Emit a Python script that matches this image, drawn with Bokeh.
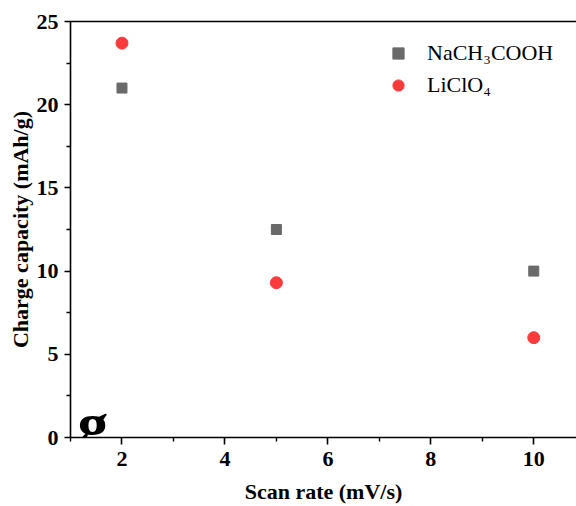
from bokeh.plotting import figure
from bokeh.models import Legend, LegendItem, LinearAxis, FixedTicker, Label, Range1d
from bokeh.embed import file_html
from bokeh.resources import INLINE

scan_rate = [2, 5, 10]
na_values = [21.0, 12.5, 10.0]
li_values = [23.7, 9.3, 6.0]
x_ticks = [2, 4, 6, 8, 10]
y_ticks = [0, 5, 10, 15, 20, 25]
series_names = ["NaCH\u2083COOH", "LiClO\u2084"]

FONT = "Liberation Serif"

p = figure(width=576, height=506, frame_width=506, frame_height=416,
           output_backend="svg", toolbar_location=None,
           x_range=Range1d(1.0, 10.83), y_range=Range1d(0, 25),
           min_border_left=70, min_border_right=0, min_border_top=21, min_border_bottom=69)
p.outline_line_color = None
p.xgrid.visible = False
p.ygrid.visible = False
p.background_fill_color = "white"

r1 = p.scatter(scan_rate, na_values, marker="square", size=10, color="#6a6a6a")
r2 = p.scatter(scan_rate, li_values, marker="circle", size=12, color="#fb3b3b")

for ax in (p.xaxis[0], p.yaxis[0]):
    ax.axis_line_width = 1.6
    ax.major_tick_line_width = 1.6
    ax.minor_tick_line_width = 1.4
    ax.major_label_text_font = FONT
    ax.major_label_text_font_style = "bold"
    ax.major_label_text_font_size = "22px"
    ax.major_label_text_color = "black"
    ax.axis_label_text_font = FONT
    ax.axis_label_text_font_style = "bold"
    ax.axis_label_text_font_size = "22px"
    ax.axis_label_text_color = "black"
    ax.major_tick_in = 0
    ax.minor_tick_in = 0

p.xaxis[0].ticker = FixedTicker(ticks=x_ticks, minor_ticks=[1, 3, 5, 7, 9])
p.yaxis[0].ticker = FixedTicker(ticks=y_ticks, minor_ticks=[2.5, 7.5, 12.5, 17.5, 22.5])
p.xaxis[0].major_tick_out = 7
p.xaxis[0].minor_tick_out = 4
p.yaxis[0].major_tick_out = 6
p.yaxis[0].minor_tick_out = 4
p.xaxis[0].major_label_standoff = 7
p.yaxis[0].major_label_standoff = 6
p.xaxis[0].axis_label = "Scan rate (mV/s)"
p.yaxis[0].axis_label = "Charge capacity (mAh/g)"
p.xaxis[0].axis_label_standoff = 10
p.yaxis[0].axis_label_standoff = 1

top = LinearAxis(ticker=FixedTicker(ticks=[]), axis_line_width=1.6,
                 major_tick_line_color=None, minor_tick_line_color=None,
                 major_label_text_font_size="0px")
p.add_layout(top, "above")

legend = Legend(items=[LegendItem(label=series_names[0], renderers=[r1]),
                       LegendItem(label=series_names[1], renderers=[r2])],
                location=(314, 338), border_line_color=None, background_fill_alpha=0,
                padding=0, margin=0, spacing=4, glyph_width=28, glyph_height=28,
                label_height=28, label_standoff=15,
                label_text_font=FONT, label_text_font_size="22px", label_text_color="black")
p.add_layout(legend, "center")

g = Label(x=7, y=14, x_units="screen", y_units="screen", text="g",
          text_font=FONT, text_font_style="bold", text_font_size="62px",
          text_color="black", text_baseline="alphabetic")
p.add_layout(g)

open("out.html", "w").write(file_html(p, INLINE))
